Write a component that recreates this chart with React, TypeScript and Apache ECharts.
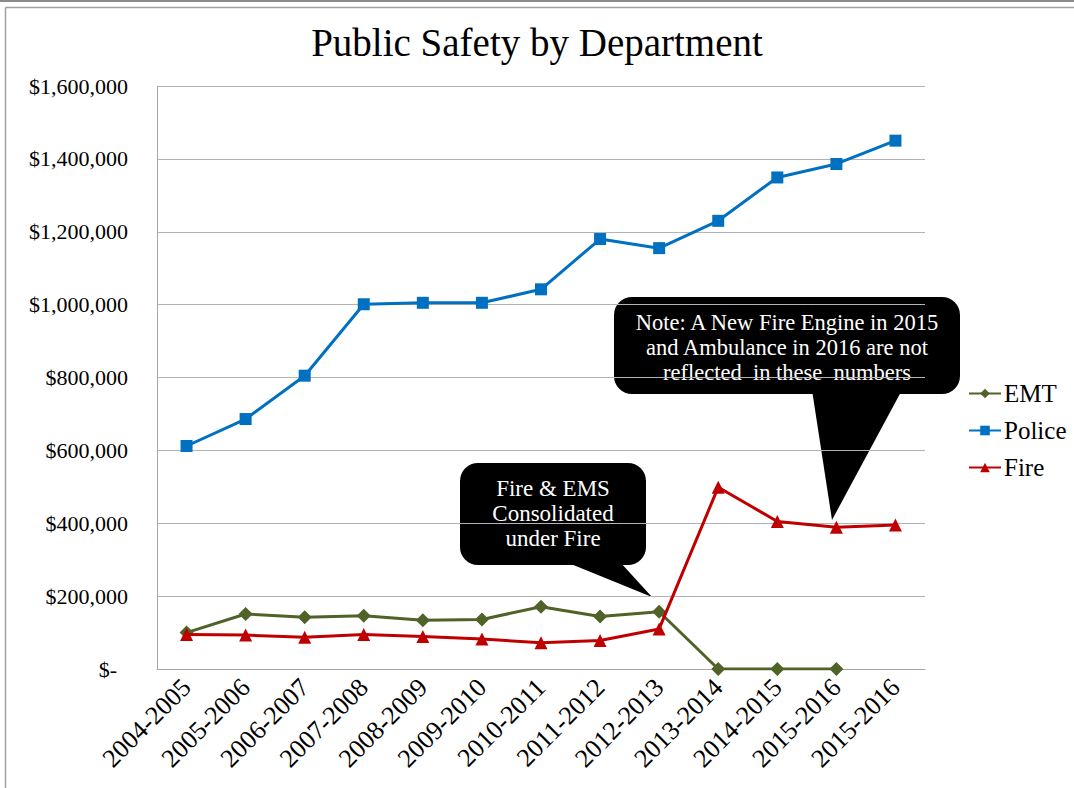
import React, { useEffect, useRef } from "react";
import * as echarts from "echarts";

const categories = [
  "2004-2005", "2005-2006", "2006-2007", "2007-2008", "2008-2009", "2009-2010",
  "2010-2011", "2011-2012", "2012-2013", "2013-2014", "2014-2015", "2015-2016", "2015-2016",
];
const emtValues: (number | null)[] = [
  100000, 151000, 142000, 146000, 134000, 136000, 171000, 144000, 157000, 0, 0, 0, null,
];
const policeValues = [
  612000, 686000, 805000, 1001000, 1005000, 1005000, 1042000, 1180000, 1155000, 1230000, 1349000, 1386000, 1450000,
];
const fireValues = [
  95000, 93000, 87000, 95000, 89000, 82000, 72000, 78000, 110000, 499000, 405000, 389000, 395000,
];
const yTicks = { min: 0, max: 1600000, interval: 200000 };
const titleText = "Public Safety by Department";
const note1Lines = ["Fire & EMS", "Consolidated", "under Fire"];
const note2Lines = ["Note: A New Fire Engine in 2015", "and Ambulance in 2016 are not", "reflected  in these  numbers"];

const FONT = "'Liberation Serif', 'DejaVu Serif', serif";

export default function App() {
  const ref = useRef<HTMLDivElement>(null);
  useEffect(() => {
    if (!ref.current) return;
    const chart = echarts.init(ref.current, undefined, { renderer: "svg" });
    const option: any = {
      animation: false,
      backgroundColor: "#ffffff",
      textStyle: { fontFamily: FONT },
      title: {
        text: titleText,
        left: "center",
        top: 18,
        textStyle: { fontFamily: FONT, fontSize: 39, fontWeight: "normal", color: "#000" },
      },
      legend: {
        orient: "vertical",
        left: 963,
        top: 376,
        itemWidth: 32,
        itemHeight: 12,
        itemGap: 12,
        textStyle: { fontFamily: FONT, fontSize: 25, color: "#000", lineHeight: 25, padding: [0, 0, 0, -2] },
        data: ["EMT", "Police", "Fire"],
      },
      grid: { left: 157, right: 149, top: 86, bottom: 119, containLabel: false },
      xAxis: {
        type: "category",
        data: categories,
        boundaryGap: true,
        axisLine: { lineStyle: { color: "#a6a6a6", width: 1 } },
        axisTick: { show: false },
        axisLabel: {
          rotate: 45,
          interval: 0,
          margin: 14,
          fontFamily: FONT,
          fontSize: 26,
          color: "#000",
        },
      },
      yAxis: {
        type: "value",
        min: yTicks.min,
        max: yTicks.max,
        interval: yTicks.interval,
        axisLine: { show: true, lineStyle: { color: "#a6a6a6", width: 1 } },
        axisTick: { show: false },
        splitLine: { lineStyle: { color: "#b3b3b3", width: 1 } },
        axisLabel: {
          margin: 29,
          fontFamily: FONT,
          fontSize: 22,
          color: "#000",
          formatter: (v: number) => (v === 0 ? "{z|$-}" : "$" + v.toLocaleString("en-US")),
          rich: { z: { fontFamily: FONT, fontSize: 22, color: "#000", padding: [0, 11, 0, 0] } },
        },
      },
      series: [
        {
          name: "EMT",
          type: "line",
          data: emtValues,
          symbol: "diamond",
          symbolSize: 14,
          lineStyle: { color: "#4f6228", width: 3 },
          itemStyle: { color: "#4f6228" },
          z: 3,
        },
        {
          name: "Police",
          type: "line",
          data: policeValues,
          symbol: "rect",
          symbolSize: 12,
          lineStyle: { color: "#0070c0", width: 3 },
          itemStyle: { color: "#0070c0" },
          z: 3,
        },
        {
          name: "Fire",
          type: "line",
          data: fireValues,
          symbol: "triangle",
          symbolSize: 13,
          lineStyle: { color: "#c00000", width: 3 },
          itemStyle: { color: "#c00000" },
          z: 4,
        },
      ],
      graphic: [
        { type: "line", shape: { x1: 0, y1: 1, x2: 1074, y2: 1 }, style: { stroke: "#8c8c8c", lineWidth: 2 }, silent: true },
        { type: "line", shape: { x1: 5.5, y1: 7.5, x2: 1074, y2: 7.5 }, style: { stroke: "#a0a0a0", lineWidth: 1.5 }, silent: true },
        { type: "line", shape: { x1: 5.5, y1: 7.5, x2: 5.5, y2: 788 }, style: { stroke: "#a0a0a0", lineWidth: 1.5 }, silent: true },
        {
          type: "group",
          z: 100,
          children: [
            { type: "rect", shape: { x: 460, y: 463, width: 186, height: 102, r: 18 }, style: { fill: "#000" } },
            { type: "polygon", shape: { points: [[566, 562], [620, 562], [652, 597]] }, style: { fill: "#000" } },
            ...note1Lines.map((t, i) => ({
              type: "text",
              x: 553,
              y: 488 + i * 25,
              style: { text: t, fill: "#fff", font: `23px ${FONT}`, textAlign: "center", textVerticalAlign: "middle" },
            })),
            { type: "rect", shape: { x: 614, y: 297, width: 346, height: 97, r: 18 }, style: { fill: "#000" } },
            { type: "polygon", shape: { points: [[812, 390], [902, 390], [832, 520]] }, style: { fill: "#000" } },
            ...note2Lines.map((t, i) => ({
              type: "text",
              x: 787,
              y: 322 + i * 25,
              style: { text: t, fill: "#fff", font: `22.5px ${FONT}`, textAlign: "center", textVerticalAlign: "middle" },
            })),
          ],
        },
      ],
    };
    chart.setOption(option);
    return () => chart.dispose();
  }, []);
  return (
    <div
      ref={ref}
      style={{ position: "fixed", left: 0, top: 0, width: 1074, height: 788 }}
    />
  );
}
